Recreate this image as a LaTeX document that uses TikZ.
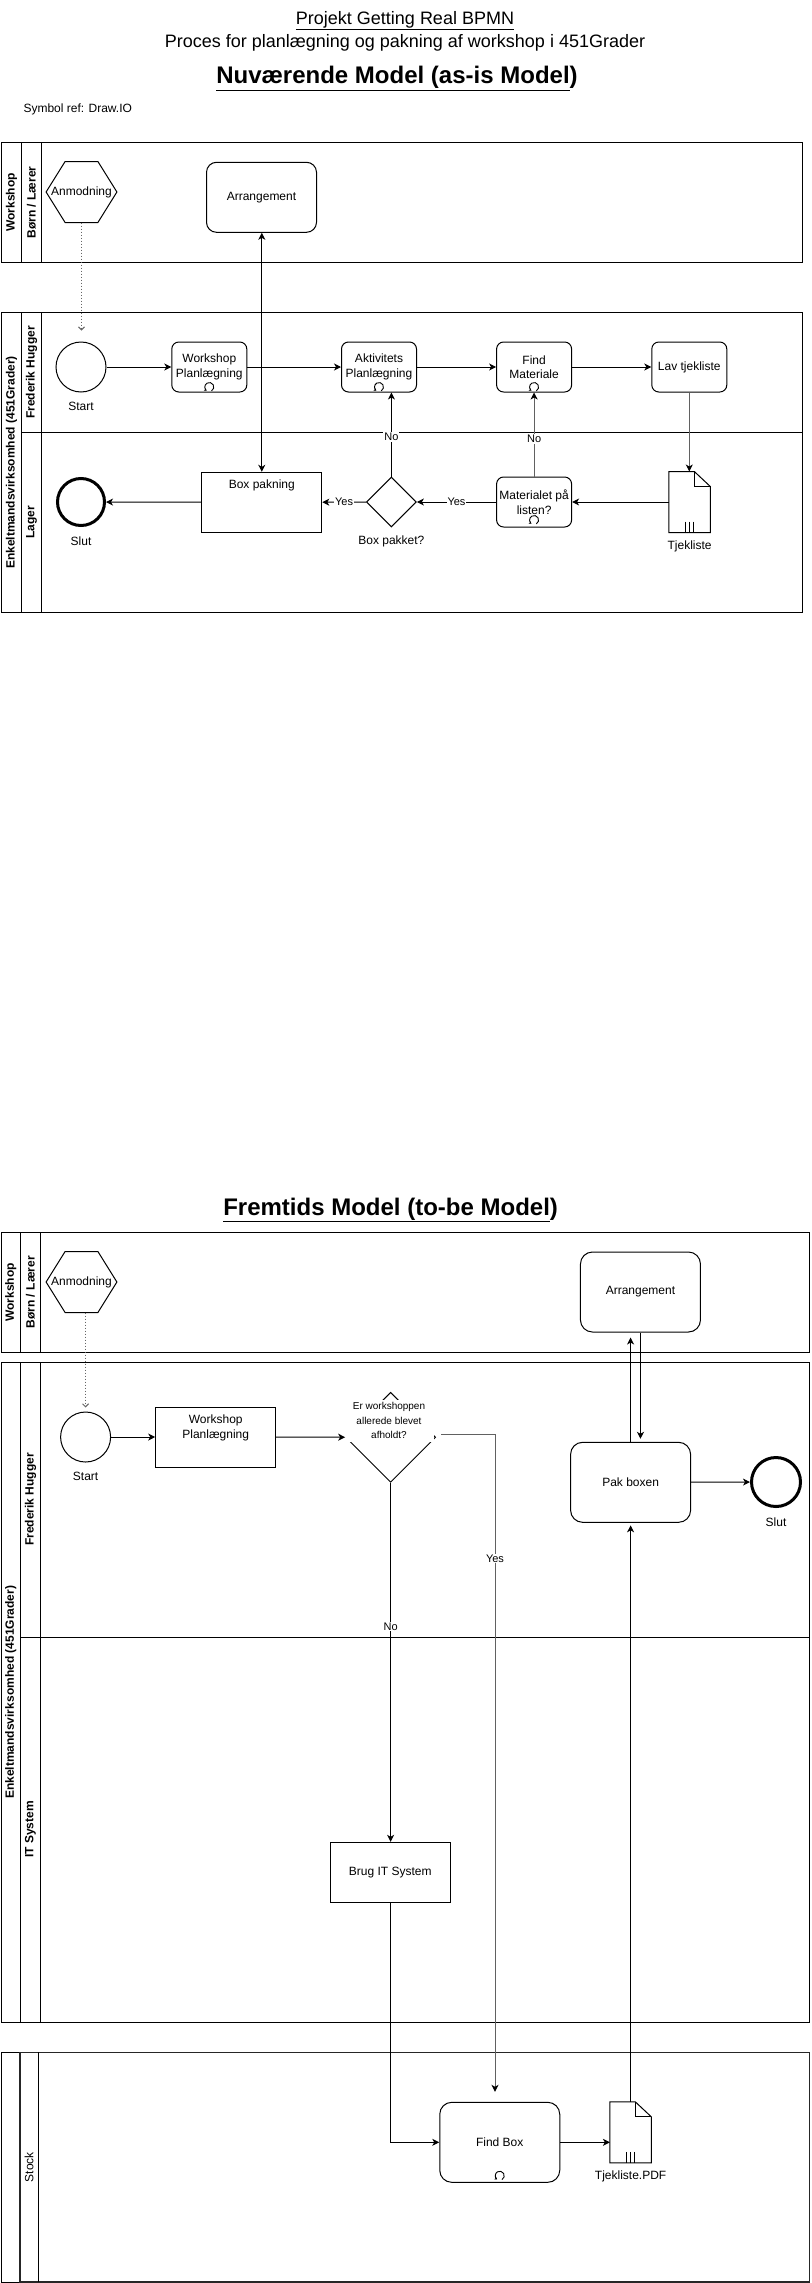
\documentclass[tikz,border=0pt]{standalone}
\usepackage{fontspec}
\setmainfont{Liberation Sans}
\usetikzlibrary{arrows.meta,shapes.geometric,calc}
\tikzset{
 f12/.style={font=\fontsize{12}{14.5}\selectfont},
 f11/.style={font=\fontsize{11}{13}\selectfont},
 f10/.style={font=\fontsize{10}{14.5}\selectfont},
 task/.style={draw, f12, align=center, inner sep=1pt, rounded corners=7pt, minimum width=75pt, minimum height=50pt},
 plainbox/.style={draw, f12, align=center, inner sep=1pt},
 startev/.style={draw, circle, minimum size=50pt, inner sep=0pt},
 endev/.style={draw, circle, line width=3pt, minimum size=47pt, inner sep=0pt},
 anmnode/.style={f12, minimum width=69.8pt, minimum height=60pt, inner sep=0pt},
 docnode/.style={minimum width=40.4pt, minimum height=60pt, inner sep=0pt},
 seq/.style={-{Stealth[length=7pt,width=7pt,inset=2pt]}},
 seqboth/.style={{Stealth[length=7pt,width=7pt,inset=2pt]}-{Stealth[length=7pt,width=7pt,inset=2pt]}},
 seqgray/.style={draw=black!62, -{Stealth[length=7pt,width=7pt,inset=2pt,color=black]}},
 msg/.style={draw=black!60, dotted, -{Straight Barb[length=3pt,width=6pt]}},
 edgelbl/.style={f11, fill=white, inner sep=1pt},
 lanetitle/.style={font=\bfseries\fontsize{12}{14}\selectfont, rotate=90, inner sep=0pt},
 loopmk/.pic={\draw[line width=0.9pt,-{Stealth[length=2.5pt,width=3pt]}] (2.25,-3.9) arc[start angle=-60,end angle=235,radius=4.5pt];}
}
\begin{document}
\begin{tikzpicture}[x=1pt,y=1pt,line width=1pt]
\useasboundingbox (0,0) rectangle (811,-2283);

% ---------- titles ----------
\node[font=\fontsize{18}{21}\selectfont, anchor=base] (t1) at (405,-24.5) {\underline{Projekt Getting Real BPMN}};
\node[font=\fontsize{18}{21}\selectfont, anchor=base] (t2) at (405,-47.5) {Proces for planlægning og pakning af workshop i 451Grader};
\node[font=\bfseries\fontsize{24}{28}\selectfont, anchor=base] (t3) at (397,-84) {\underline{Nuværende Model (as-is Model})};
\node[f12, anchor=base west, inner sep=0pt] (t4) at (23,-112) {Symbol ref: Draw.IO};
\node[font=\bfseries\fontsize{24}{28}\selectfont, anchor=base] (t5) at (390.6,-1215) {\underline{Fremtids Model (to-be Model})};

% ---------- pools (as-is) ----------
\draw (1.5,-142.5) rectangle (802,-262.3);
\draw (21.7,-142.5) -- (21.7,-262.3);
\draw (41.4,-142.5) -- (41.4,-262.3);
\node[lanetitle] (p1a) at (11.6,-202.4) {Workshop};
\node[lanetitle] (p1b) at (31.5,-202.4) {Børn / Lærer};

\draw (1.5,-312.5) rectangle (802,-612.3);
\draw (21.7,-312.5) -- (21.7,-612.3);
\draw (41.4,-312.5) -- (41.4,-612.3);
\draw (21.7,-432.3) -- (802,-432.3);
\node[lanetitle] (p2a) at (11.6,-462.4) {Enkeltmandsvirksomhed (451Grader)};
\node[lanetitle] (p2b) at (31.5,-372.4) {Frederik Hugger};
\node[lanetitle] (p2c) at (31.5,-522.3) {Lager};

% ---------- pools (to-be) ----------
\draw (1.5,-1232.3) rectangle (809.6,-1352.3);
\draw (20.7,-1232.3) -- (20.7,-1352.3);
\draw (40.4,-1232.3) -- (40.4,-1352.3);
\node[lanetitle] (p3a) at (10.8,-1292.3) {Workshop};
\node[lanetitle] (p3b) at (30.5,-1292.3) {Børn / Lærer};

\draw (1.5,-1362.3) rectangle (809.6,-2022.3);
\draw (20.7,-1362.3) -- (20.7,-2022.3);
\draw (40.4,-1362.3) -- (40.4,-2022.3);
\draw (20.7,-1637.5) -- (809.6,-1637.5);
\node[lanetitle] (p4a) at (10.8,-1692.3) {Enkeltmandsvirksomhed (451Grader)};
\node[lanetitle] (p4b) at (30.5,-1499.5) {Frederik Hugger};
\node[lanetitle] (p4c) at (30.5,-1829.5) {IT System};

\draw (1.5,-2052.3) rectangle (809.6,-2282);
\draw[line width=1.6pt, black!85] (19.7,-2282) -- (19.7,-2052.3) -- (809.6,-2052.3) -- (809.6,-2282) -- cycle;
\draw (38.8,-2052.3) -- (38.8,-2282);
\node[f12, rotate=90, inner sep=0pt] (p5a) at (29.2,-2167) {Stock};

% ---------- nodes (as-is) ----------
\node[anmnode] (anm1) at (81.5,-192) {Anmodning};
\node[task, minimum width=110pt, minimum height=70pt, rounded corners=10pt] (arr1) at (261.5,-197.3) {Arrangement};
\node[startev, label={[f12,anchor=center,yshift=-14pt]south:Start}] (start1) at (81,-367) {};
\node[task] (wp1) at (209.3,-367) {Workshop\\Planlægning};
\node[task] (akt1) at (379,-367) {Aktivitets\\Planlægning};
\node[task] (fm1) at (534.1,-367) {Find\\Materiale};
\node[task] (lav1) at (689.3,-367) {Lav tjekliste};
\node[docnode, label={[f12,anchor=center,yshift=-13.7pt]south:Tjekliste}] (doc1) at (689.6,-502) {};
\node[task] (mat1) at (534.1,-502) {Materialet på\\listen?};
\node[draw, diamond, minimum width=50pt, minimum height=50pt, inner sep=0pt, label={[f12,anchor=center,yshift=-13.7pt]south:Box pakket?}] (dia1) at (391.4,-502) {};
\node[plainbox, minimum width=120pt, minimum height=60pt, label={[f12,anchor=center,yshift=-13.4pt]north:Box pakning}] (boxp1) at (261.8,-502.3) {};
\node[endev, label={[f12,anchor=center,yshift=-14.5pt]south:Slut}] (slut1) at (81,-502) {};

\pic at (209.3,-387) {loopmk};
\pic at (379,-387) {loopmk};
\pic at (534.1,-387) {loopmk};
\pic at (534.1,-520) {loopmk};

% ---------- nodes (to-be) ----------
\node[anmnode] (anm2) at (81.5,-1282) {Anmodning};
\node[task, minimum width=120pt, minimum height=80pt, rounded corners=12pt] (arr2) at (640.45,-1292) {Arrangement};
\node[startev, label={[f12,anchor=center,yshift=-13.7pt]south:Start}] (start2) at (85.6,-1437) {};
\node[plainbox, minimum width=120pt, minimum height=60pt, label={[f12,align=center,anchor=center,yshift=9pt]center:Workshop\\Planlægning}] (wp2) at (215.7,-1437) {};
\node[draw, diamond, minimum width=90pt, minimum height=90pt, inner sep=0pt,
  label={[f10, fill=white, align=center, minimum width=90pt, minimum height=42pt, inner sep=0pt, anchor=center, xshift=-1.6pt, yshift=16.8pt]center:Er workshoppen\\allerede blevet\\afholdt?}] (dia2) at (390.6,-1437.3) {};
\node[task, minimum width=120pt, minimum height=80pt, rounded corners=12pt] (pakbox) at (630.6,-1482.3) {Pak boxen};
\node[endev, minimum size=49pt, label={[f12,anchor=center,yshift=-14.2pt]south:Slut}] (slut2) at (776,-1482) {};
\node[plainbox, minimum width=120pt, minimum height=60pt] (brug) at (390.3,-1872.3) {Brug IT System};
\node[task, minimum width=120pt, minimum height=80pt, rounded corners=12pt] (findbox) at (499.75,-2142.3) {Find Box};
\node[docnode, label={[f12,anchor=center,yshift=-13.4pt]south:Tjekliste.PDF}] (doc2) at (630.6,-2132.3) {};
\pic at (499.75,-2175.7) {loopmk};

% ---------- shapes drawn around named nodes ----------
\foreach \h in {anm1,anm2}
  \draw (\h.west) -- ([xshift=19pt]\h.north west) -- ([xshift=-19pt]\h.north east) -- (\h.east) -- ([xshift=-19pt]\h.south east) -- ([xshift=19pt]\h.south west) -- cycle;
\foreach \d in {doc1,doc2}{
  \draw (\d.south west) -- (\d.north west) -- ([xshift=-16pt]\d.north east) -- ([yshift=-15pt]\d.north east) -- (\d.south east) -- cycle;
  \draw ([xshift=-16pt]\d.north east) |- ([yshift=-15pt]\d.north east);
  \foreach \o in {-4,0,4} \draw ([xshift=\o pt, yshift=11pt]\d.south) -- ([xshift=\o pt]\d.south);
}

% ---------- connectors (as-is) ----------
\draw[msg, shorten >=11pt] (anm1.south) -- (anm1.south |- start1.north);
\draw[seqboth] (boxp1.north |- arr1.south) -- (boxp1.north);
\draw[seq] (start1) -- (wp1);
\draw[seq] (wp1) -- (akt1);
\draw[seq] (akt1) -- (fm1);
\draw[seq] (fm1) -- (lav1);
\draw[seqgray] (lav1.south) -- (lav1.south |- doc1.north);
\draw[seq] (doc1) -- (mat1);
\draw[seq] (mat1) -- node[edgelbl]{Yes} (dia1);
\draw[seqgray] (mat1) -- node[edgelbl, pos=0.45]{No} (fm1);
\draw[seq] (dia1.north) -- node[edgelbl, pos=0.47]{No} (dia1.north |- akt1.south);
\draw[seq] (dia1) -- node[edgelbl]{Yes} (boxp1);
\draw[seq] (boxp1) -- (slut1);

% ---------- connectors (to-be) ----------
\draw[msg, shorten >=4pt] (start2.north |- anm2.south) -- (start2.north);
\draw[seq] (start2) -- (wp2);
\draw[seq] (wp2) -- (dia2);
\draw[seq] (dia2.south) -- node[edgelbl, pos=0.4]{No} (dia2.south |- brug.north);
\draw[seqgray, shorten >=10pt] ([xshift=5.2pt,yshift=3pt]dia2.east) -| node[edgelbl, pos=0.593]{Yes} ([xshift=-4.75pt]findbox.north);
\draw[seq] (brug.south) |- (findbox.west);
\draw[seq] (findbox.east) -- (findbox.east -| doc2.west);
\draw[seq, shorten >=2.5pt] (doc2.north) -- (doc2.north |- pakbox.south);
\draw[seq, shorten >=5pt] (pakbox.north) -- (pakbox.north |- arr2.south);
\draw[seq, shorten >=3pt] (arr2.south) -- (arr2.south |- pakbox.north);
\draw[seq] (pakbox) -- (slut2);
\end{tikzpicture}
\end{document}
